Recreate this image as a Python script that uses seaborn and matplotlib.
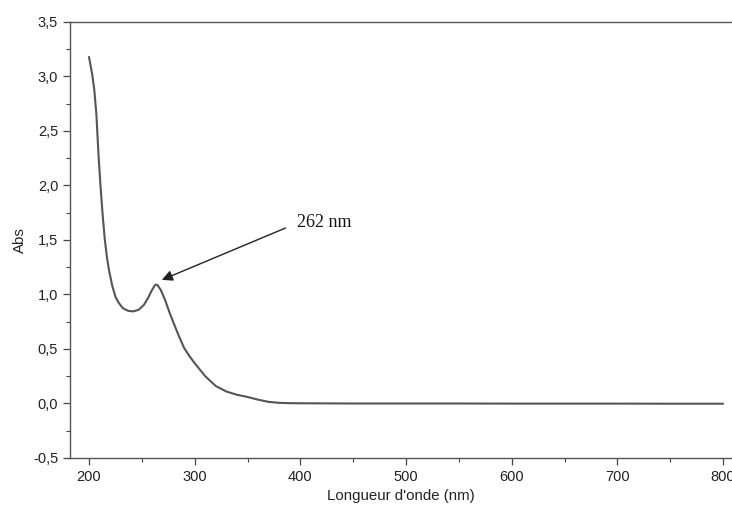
import numpy as np
import pandas as pd
import matplotlib
matplotlib.use("Agg")
import matplotlib.pyplot as plt
from matplotlib.ticker import MultipleLocator
import seaborn as sns

# spectre UV-Vis
wavelength = [200, 203, 205, 207, 209, 211, 213, 215, 217, 219, 222, 225, 228, 232,
              237, 242, 247, 252, 256, 259, 262, 263, 265, 268, 272, 276, 280, 285,
              290, 295, 300, 310, 320, 330, 340, 350, 360, 370, 380, 390, 400, 450,
              500, 550, 600, 650, 700, 750, 800]
absorbance = [3.18, 3.02, 2.88, 2.65, 2.28, 1.98, 1.72, 1.50, 1.34, 1.22, 1.08, 0.98,
              0.925, 0.875, 0.85, 0.845, 0.86, 0.905, 0.97, 1.03, 1.08, 1.09, 1.085,
              1.04, 0.95, 0.84, 0.74, 0.62, 0.51, 0.435, 0.37, 0.25, 0.16, 0.11, 0.08,
              0.06, 0.035, 0.015, 0.006, 0.003, 0.002, 0.0, 0.0, 0.0, -0.001, -0.001,
              -0.001, -0.002, -0.002]

x_ticks = [200, 300, 400, 500, 600, 700, 800]
x_labels = ["200", "300", "400", "500", "600", "700", "800"]
y_ticks = [-0.5, 0.0, 0.5, 1.0, 1.5, 2.0, 2.5, 3.0, 3.5]
y_labels = ["-0,5", "0,0", "0,5", "1,0", "1,5", "2,0", "2,5", "3,0", "3,5"]

peak_label = "262 nm"
peak_xy = (268.9, 1.134)
label_xy = (386, 1.61)

df = pd.DataFrame({"wl": wavelength, "abs": absorbance})

sns.set_style("ticks")
plt.rcParams["font.family"] = ["Liberation Sans", "DejaVu Sans"]

fig = plt.figure(figsize=(7.32, 5.09), dpi=100)
ax = fig.add_axes([0.0956, 0.1002, 0.9044, 0.8566])

sns.lineplot(data=df, x="wl", y="abs", ax=ax, color="#555555", linewidth=1.5)

ax.set_xlim(182, 808.5)
ax.set_ylim(-0.5, 3.5)
ax.set_xticks(x_ticks)
ax.set_xticklabels(x_labels)
ax.set_yticks(y_ticks)
ax.set_yticklabels(y_labels)
ax.xaxis.set_minor_locator(MultipleLocator(50))
ax.yaxis.set_minor_locator(MultipleLocator(0.25))
ax.tick_params(which="major", direction="out", length=5, width=0.9, colors="#444444",
               labelsize=10.5, labelcolor="#222222")
ax.tick_params(which="minor", direction="out", length=3, width=0.8, colors="#444444")

for s in ax.spines.values():
    s.set_color("#555555")
    s.set_linewidth(1.0)
ax.spines["right"].set_visible(False)

ax.set_xlabel("Longueur d'onde (nm)", fontsize=10.8, color="#222222")
ax.set_ylabel("Abs", fontsize=10.8, color="#222222")

ax.annotate("", xy=peak_xy, xytext=label_xy,
            arrowprops=dict(arrowstyle="-|>", color="#222222", lw=1.0,
                            mutation_scale=16, shrinkA=0, shrinkB=0))
ax.text(label_xy[0] + 11, label_xy[1] + 0.05, peak_label, fontsize=13,
        family=["Liberation Serif", "DejaVu Serif"], va="center", ha="left", color="#111111")

fig.savefig("out.png", dpi=100)
